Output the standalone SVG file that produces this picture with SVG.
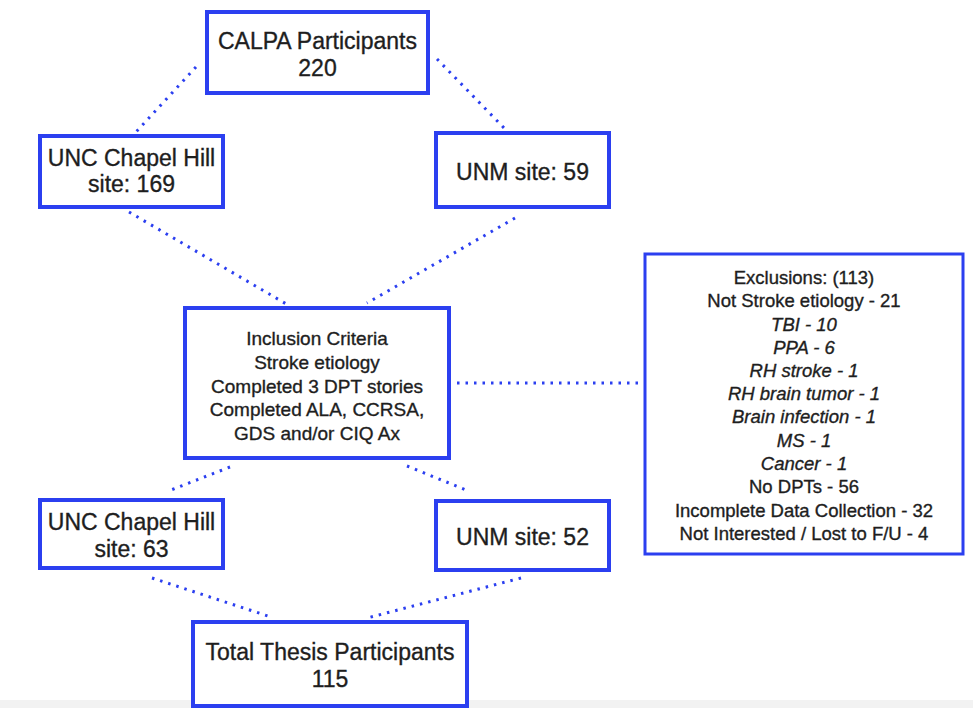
<svg xmlns="http://www.w3.org/2000/svg" width="973" height="708" viewBox="0 0 973 708">
<style>
.box{fill:#ffffff;stroke:#2b3ff0;stroke-width:4}
.t{font-family:"Liberation Sans",Arial,sans-serif;font-size:23px;fill:#1e1e1e;stroke:#1e1e1e;stroke-width:0.35;text-anchor:middle;dominant-baseline:central}
.s{font-size:19px}
.x{font-size:18.5px}
.i{font-style:italic}
.c{stroke:#2b3ff0;stroke-width:3;stroke-dasharray:2.5 6;fill:none}
</style>
<rect width="973" height="708" fill="#ffffff"/>
<rect x="0" y="700" width="973" height="8" fill="#f2f2f2"/>
<g id="connectors">
<line class="c" x1="196" y1="67" x2="136" y2="132"/>
<line class="c" x1="437" y1="59" x2="507" y2="131"/>
<line class="c" x1="129" y1="212" x2="288" y2="305"/>
<line class="c" x1="515" y1="218" x2="367" y2="303"/>
<line class="c" x1="457" y1="383" x2="645" y2="383"/>
<line class="c" x1="230" y1="467" x2="171" y2="490"/>
<line class="c" x1="407" y1="466" x2="466" y2="490"/>
<line class="c" x1="152" y1="578" x2="271" y2="617"/>
<line class="c" x1="521" y1="578" x2="367" y2="618"/>
</g>
<g id="calpa">
<rect class="box" x="207" y="12" width="221" height="81"/>
<text class="t" x="317.5" y="41">CALPA Participants</text>
<text class="t" x="317.5" y="68">220</text>
</g>
<g id="unc1">
<rect class="box" x="40" y="136" width="183" height="71"/>
<text class="t" x="131.5" y="158">UNC Chapel Hill</text>
<text class="t" x="131.5" y="184">site: 169</text>
</g>
<g id="unm1">
<rect class="box" x="436" y="133" width="173" height="74"/>
<text class="t" x="522.5" y="172">UNM site: 59</text>
</g>
<g id="inclusion">
<rect class="box" x="185" y="308" width="264" height="150"/>
<text class="t s" x="317" y="338">Inclusion Criteria</text>
<text class="t s" x="317" y="362">Stroke etiology</text>
<text class="t s" x="317" y="386">Completed 3 DPT stories</text>
<text class="t s" x="317" y="409">Completed ALA, CCRSA,</text>
<text class="t s" x="317" y="433">GDS and/or CIQ Ax</text>
</g>
<g id="exclusions">
<rect class="box" x="645" y="254" width="318" height="300" style="stroke-width:3"/>
<text class="t x" x="804" y="277">Exclusions: (113)</text>
<text class="t x" x="804" y="300">Not Stroke etiology - 21</text>
<text class="t x i" x="804" y="324">TBI - 10</text>
<text class="t x i" x="804" y="347">PPA - 6</text>
<text class="t x i" x="804" y="370">RH stroke - 1</text>
<text class="t x i" x="804" y="393">RH brain tumor - 1</text>
<text class="t x i" x="804" y="416">Brain infection - 1</text>
<text class="t x i" x="804" y="440">MS - 1</text>
<text class="t x i" x="804" y="463">Cancer - 1</text>
<text class="t x" x="804" y="486">No DPTs - 56</text>
<text class="t x" x="804" y="510">Incomplete Data Collection - 32</text>
<text class="t x" x="804" y="533">Not Interested / Lost to F/U - 4</text>
</g>
<g id="unc2">
<rect class="box" x="40" y="500" width="183" height="68"/>
<text class="t" x="131.5" y="522">UNC Chapel Hill</text>
<text class="t" x="131.5" y="549">site: 63</text>
</g>
<g id="unm2">
<rect class="box" x="436" y="501" width="173" height="69"/>
<text class="t" x="522.5" y="537">UNM site: 52</text>
</g>
<g id="total">
<rect class="box" x="193" y="622" width="274" height="84"/>
<text class="t" x="330" y="652">Total Thesis Participants</text>
<text class="t" x="330" y="679">115</text>
</g>
</svg>
